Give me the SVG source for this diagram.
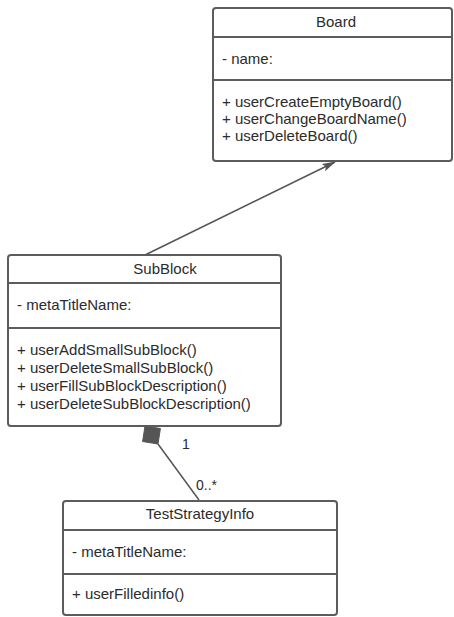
<svg xmlns="http://www.w3.org/2000/svg" width="454" height="617" viewBox="0 0 454 617">
  <style>
    .box { fill: #ffffff; stroke: #5c5c5c; stroke-width: 2; }
    .div { stroke: #5c5c5c; stroke-width: 2; }
    .t { font-family: "Liberation Sans", Arial, sans-serif; font-size: 15px; fill: #2b2b2b; }
    .c { text-anchor: middle; }
    .lbl { font-size: 14px; }
    .edge { stroke: #555555; stroke-width: 1.5; fill: none; }
  </style>
  <defs>
    <marker id="arrow" viewBox="0 0 14 8" refX="13" refY="4" markerWidth="14" markerHeight="8" markerUnits="userSpaceOnUse" orient="auto">
      <path d="M0,0 L14,4 L0,8 L3,4 Z" fill="#555555"/>
    </marker>
  </defs>
  <rect width="454" height="617" fill="#ffffff"/>

  <g id="connectors">
    <!-- SubBlock to Board association with arrow -->
    <line class="edge" x1="145" y1="255" x2="335" y2="162" marker-end="url(#arrow)"/>
    <!-- SubBlock composition of TestStrategyInfo -->
    <line class="edge" x1="158" y1="444" x2="199" y2="500"/>
    <polygon points="145,426 160.4,428.5 158,444 142.6,441.5" fill="#555555" stroke="#555555" stroke-width="1"/>
    <text class="t lbl" x="182" y="449">1</text>
    <text class="t lbl" x="196" y="490">0..*</text>
  </g>

  <g id="Board">
    <rect class="box" x="213" y="8" width="239" height="153" rx="3"/>
    <line class="div" x1="213" y1="37" x2="452" y2="37"/>
    <line class="div" x1="213" y1="80" x2="452" y2="80"/>
    <text class="t c" x="336" y="27">Board</text>
    <text class="t" x="222" y="64">- name:</text>
    <text class="t" x="222" y="107">+ userCreateEmptyBoard()</text>
    <text class="t" x="222" y="124">+ userChangeBoardName()</text>
    <text class="t" x="222" y="141">+ userDeleteBoard()</text>
  </g>

  <g id="SubBlock">
    <rect class="box" x="8" y="255" width="273" height="171" rx="3"/>
    <line class="div" x1="8" y1="283" x2="281" y2="283"/>
    <line class="div" x1="8" y1="328" x2="281" y2="328"/>
    <text class="t c" x="165" y="274">SubBlock</text>
    <text class="t" x="17" y="310">- metaTitleName:</text>
    <text class="t" x="17" y="355">+ userAddSmallSubBlock()</text>
    <text class="t" x="17" y="373">+ userDeleteSmallSubBlock()</text>
    <text class="t" x="17" y="391">+ userFillSubBlockDescription()</text>
    <text class="t" x="17" y="409">+ userDeleteSubBlockDescription()</text>
  </g>

  <g id="TestStrategyInfo">
    <rect class="box" x="63" y="501" width="274" height="114" rx="3"/>
    <line class="div" x1="63" y1="530" x2="337" y2="530"/>
    <line class="div" x1="63" y1="574" x2="337" y2="574"/>
    <text class="t c" x="200" y="519">TestStrategyInfo</text>
    <text class="t" x="72" y="557">- metaTitleName:</text>
    <text class="t" x="72" y="599">+ userFilledinfo()</text>
  </g>
</svg>
